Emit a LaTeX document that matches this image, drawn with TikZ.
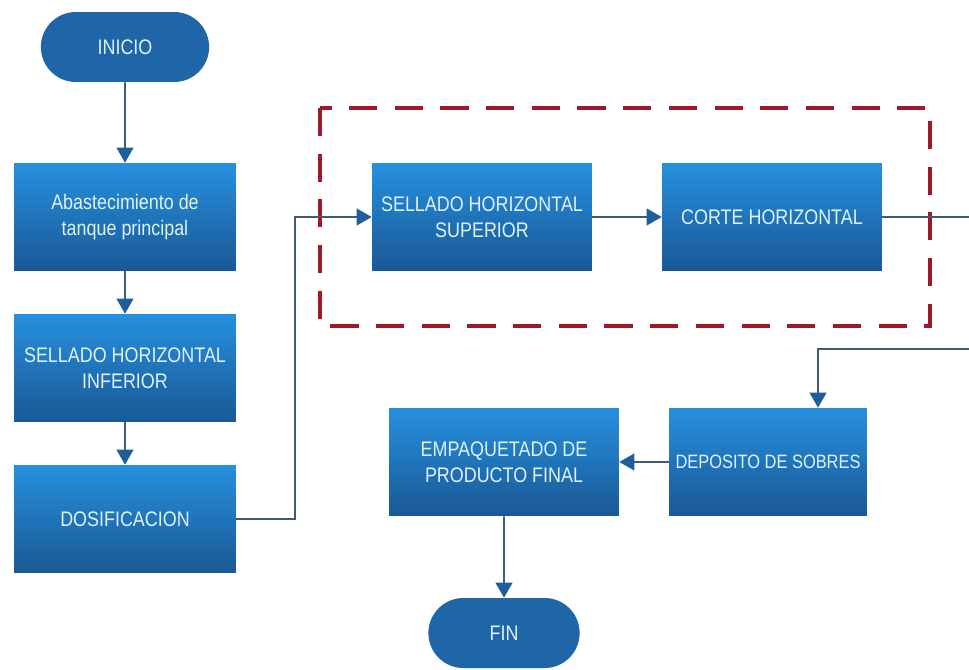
\documentclass[tikz,border=0pt]{standalone}
\usepackage{fontspec}
\setmainfont{Liberation Sans}[FakeStretch=0.85]
\usetikzlibrary{arrows.meta,shapes.misc}
\definecolor{boxtop}{RGB}{38,144,222}
\definecolor{boxbot}{RGB}{26,88,148}
\definecolor{termfill}{RGB}{30,102,168}
\definecolor{txtcol}{RGB}{222,242,255}
\definecolor{linecol}{RGB}{62,92,122}
\definecolor{tipcol}{RGB}{30,95,155}
\definecolor{groupred}{RGB}{160,24,40}
\tikzset{
  procbox/.style={rectangle, inner sep=2pt, minimum height=2.16cm,
    top color=boxtop, bottom color=boxbot, draw=none,
    text=txtcol, align=center, font=\fontsize{12}{15}\selectfont},
  terminal/.style={rounded rectangle, minimum height=1.4cm, fill=termfill,
    draw=none, text=txtcol, font=\fontsize{12}{15}\selectfont},
  flow/.style={draw=linecol, line width=0.9pt,
    -{Triangle[length=8.5pt,width=9.5pt,fill=tipcol,color=tipcol]}},
  groupbox/.style={draw=groupred, line width=1.8pt, dash pattern=on 16pt off 10pt}
}
\begin{document}
\begin{tikzpicture}[x=0.02cm, y=-0.02cm]
  \useasboundingbox[fill=white] (0,0) rectangle (969,669);

  % dashed group around the upper sealing and cutting steps
  \draw[groupbox] (320,108) rectangle (930,326);

  % terminals
  \node[terminal, minimum width=3.6cm] (ini) at (125,47) {INICIO};
  \node[terminal, minimum width=3.26cm] (fin) at (504,633) {FIN};

  % process steps, left column
  \node[procbox, minimum width=4.44cm] (abas) at (125,217)
    {Abastecimiento de\\tanque principal};
  \node[procbox, minimum width=4.44cm] (inf) at (125,368)
    {SELLADO HORIZONTAL\\INFERIOR};
  \node[procbox, minimum width=4.44cm] (dos) at (125,519) {DOSIFICACION};

  % process steps, upper row
  \node[procbox, minimum width=4.4cm] (sup) at (482,217)
    {SELLADO HORIZONTAL\\SUPERIOR};
  \node[procbox, minimum width=4.4cm] (corte) at (772,217) {CORTE HORIZONTAL};

  % process steps, lower row
  \node[procbox, minimum width=3.96cm, inner xsep=0pt,
    font=\fontsize{11}{14}\selectfont] (dep) at (768,462) {DEPOSITO DE SOBRES};
  \node[procbox, minimum width=4.6cm] (emp) at (504,462)
    {EMPAQUETADO DE\\PRODUCTO FINAL};

  % bend points of the routed connectors
  \coordinate (r1) at (295,519);
  \coordinate (r2) at (295,217);
  \coordinate (e1) at (990,217);
  \coordinate (e2) at (990,349);
  \coordinate (e3) at (818,349);

  % connectors
  \draw[flow] (ini) -- (abas);
  \draw[flow] (abas) -- (inf);
  \draw[flow] (inf) -- (dos);
  \draw[flow] (dos.east) -- (r1) -- (r2) -- (sup.west);
  \draw[flow] (sup) -- (corte);
  \draw[flow] (corte.east) -- (e1) -- (e2) -- (e3) -- (dep.north -| e3);
  \draw[flow] (dep) -- (emp);
  \draw[flow] (emp) -- (fin);
\end{tikzpicture}
\end{document}
